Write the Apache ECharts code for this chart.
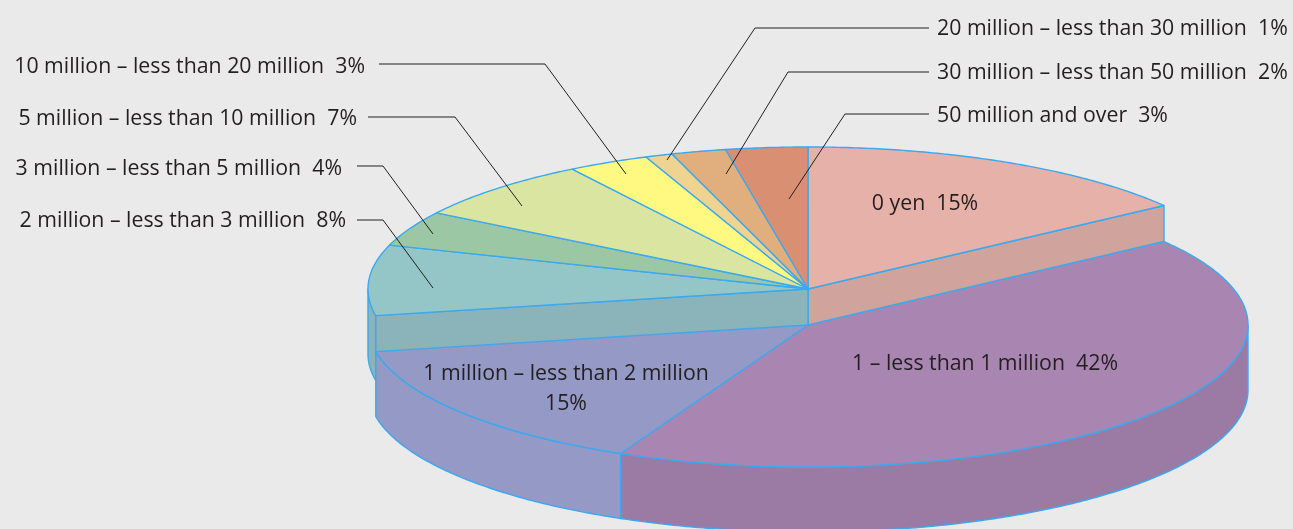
<!DOCTYPE html>
<html>
<head>
<meta charset="utf-8">
<style>html,body{margin:0;padding:0;background:#eaeaea}#c{width:1293px;height:529px}</style>
<script src="https://cdn.jsdelivr.net/npm/echarts@6/dist/echarts.min.js"></script>
</head>
<body>
<div id="c"></div>
<script>
// ---- data, clockwise from 12 o'clock ----
var categories = ['0 yen','1 – less than 1 million','1 million – less than 2 million','2 million – less than 3 million','3 million – less than 5 million','5 million – less than 10 million','10 million – less than 20 million','20 million – less than 30 million','30 million – less than 50 million','50 million and over'];
var shares = [15,42,15,8,4,7,3,1,2,3];
var lowered = [0,1,1,0,0,0,0,0,0,0];

// ---- styles ----
var topColors = ['#e6b1a9','#a886b1','#9499c5','#94c5c7','#9cc7a4','#d9e5a0','#fff981','#efd391','#e1ae7d','#d98f71'];
var sideColors = ['#d0a49d','#9b7aa3','#9499c5','#8bb3ba','#8bb3ba','#8bb3ba','#8bb3ba','#8bb3ba','#8bb3ba','#8bb3ba'];
var edgeColor = '#3aa9f0', inkColor = '#231f20';
var fontFamily = '"Open Sans", sans-serif', fontSize = 21.3, fontWeight = 400;

// ---- pie layout ----
var pie = {cx: 808, cy: 289, rx: 440, ry: 142, drop: 36, depth: 65};

// ---- annotation layout: text placement and leader polylines ----
var labelLayout = [
  {x: 925, y: 204, align: 'center'},
  {x: 985, y: 364, align: 'center'},
  {x: 566, y: 389, align: 'center', wrap: true},
  {x: 346, y: 221, align: 'right', leader: [[357,220],[383,220],[433,288]]},
  {x: 342, y: 169, align: 'right', leader: [[357,166],[383,166],[433,234]]},
  {x: 357, y: 119, align: 'right', leader: [[368,117],[455,117],[522,206]]},
  {x: 365, y: 67,  align: 'right', leader: [[379,64],[545,64],[626,174]]},
  {x: 937, y: 29,  align: 'left',  leader: [[929,28],[755,28],[667,160]]},
  {x: 937, y: 73,  align: 'left',  leader: [[929,72],[788,72],[726,174]]},
  {x: 937, y: 116, align: 'left',  leader: [[929,114],[845,114],[789,199]]}
];

var total = shares.reduce(function (a, b) { return a + b; }, 0);
function pt(theta, cy) {
  return [pie.cx + pie.rx * Math.sin(theta), cy - pie.ry * Math.cos(theta)];
}
function arc(a, b, cy) {
  var n = Math.max(2, Math.ceil(Math.abs(b - a) / 0.01)), out = [];
  for (var k = 0; k <= n; k++) out.push(pt(a + (b - a) * k / n, cy));
  return out;
}
function poly(points, fill, z2) {
  return {type: 'polygon', z2: z2, silent: true, shape: {points: points},
    style: {fill: fill, stroke: edgeColor, lineWidth: 1.4, lineJoin: 'round'}};
}
function renderItem(params, api) {
  var i = params.dataIndex, children = [];
  var before = 0;
  for (var j = 0; j < i; j++) before += shares[j];
  var a = before / total * 2 * Math.PI;
  var b = a + api.value(0) / total * 2 * Math.PI;
  var isLow = lowered[i] === 1;
  var cy = pie.cy + (isLow ? pie.drop : 0);
  var base = isLow ? 3 : 1;
  var n = categories.length;

  // outer wall: only the part of the rim that faces the viewer
  var wa = Math.max(a, Math.PI / 2), wb = Math.min(b, 3 * Math.PI / 2);
  if (wb > wa) {
    children.push(poly(arc(wa, wb, cy).concat(arc(wb, wa, cy + pie.depth)), sideColors[i], base));
  }
  // radial wall where a raised slice stands next to a lowered one
  if (!isLow) {
    [[lowered[(i + 1) % n], b], [lowered[(i - 1 + n) % n], a]].forEach(function (w) {
      if (w[0] === 1) {
        var o = pt(w[1], cy);
        children.push(poly([[pie.cx, cy], o, [o[0], o[1] + pie.depth], [pie.cx, cy + pie.depth]], sideColors[i], base));
      }
    });
  }
  // top face
  children.push(poly([[pie.cx, cy]].concat(arc(a, b, cy)), topColors[i], base + 1));

  // leader and label
  var L = labelLayout[i];
  if (L.leader) {
    children.push({type: 'polyline', z2: 5, silent: true, shape: {points: L.leader},
      style: {fill: null, stroke: inkColor, lineWidth: 1}});
  }
  children.push({type: 'text', z2: 6, silent: true, x: L.x, y: L.y,
    style: {text: categories[i] + (L.wrap ? '\n' : '  ') + api.value(0) + '%',
      fill: inkColor, font: fontWeight + ' ' + fontSize + 'px ' + fontFamily,
      align: L.align, verticalAlign: 'middle', lineHeight: 30}});
  return {type: 'group', children: children};
}

var chart = echarts.init(document.getElementById('c'), null, {renderer: 'canvas'});
chart.setOption({
  animation: false,
  backgroundColor: '#eaeaea',
  series: [{
    type: 'custom',
    coordinateSystem: 'none',
    renderItem: renderItem,
    encode: {value: 0},
    data: shares.map(function (v) { return [v]; })
  }]
});
</script>
</body>
</html>
